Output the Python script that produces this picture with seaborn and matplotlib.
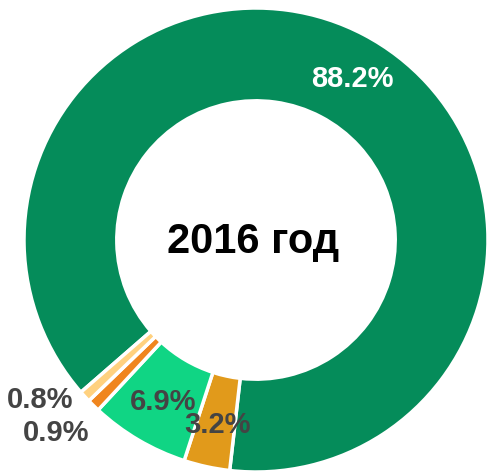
import matplotlib
matplotlib.use("Agg")
import matplotlib.pyplot as plt
import seaborn as sns

sns.set_style("white")
plt.rcParams["font.family"] = ["Liberation Sans", "DejaVu Sans"]

# --- data ---
labels = ["88.2%", "3.2%", "6.9%", "0.9%", "0.8%"]
shares = [88.2, 3.2, 6.9, 0.9, 0.8]
colors = ["#058C5A", "#E19A1B", "#10D584", "#F0851E", "#FFD17F"]
title = "2016 год"

# label positions in pixel coords of the 493x472 image, text colors
label_px = [(352, 79), (218, 425), (163, 402), (56, 433), (40, 400)]
label_colors = ["white", "#444444", "#444444", "#444444", "#444444"]

W, H = 493, 472
cx, cy, R = 256, 240, 232

fig = plt.figure(figsize=(W / 100, H / 100), dpi=100)
ax = fig.add_axes([(cx - R) / W, (H - cy - R) / H, 2 * R / W, 2 * R / H])
ax.pie(shares, colors=colors, startangle=221, counterclock=False, radius=1,
       wedgeprops=dict(width=0.4, edgecolor="white", linewidth=2.5))
ax.set_xlim(-1, 1)
ax.set_ylim(-1, 1)
ax.set_aspect("equal")
ax.axis("off")

for lab, (px, py), col in zip(labels, label_px, label_colors):
    ax.text((px - cx) / R, (cy - py) / R, lab, ha="center", va="center",
            fontsize=21, fontweight="bold", color=col)

ax.text((253 - cx) / R, (cy - 238) / R, title, ha="center", va="center_baseline",
        fontsize=30, fontweight="bold", color="black")

fig.savefig("out.png", dpi=100)
